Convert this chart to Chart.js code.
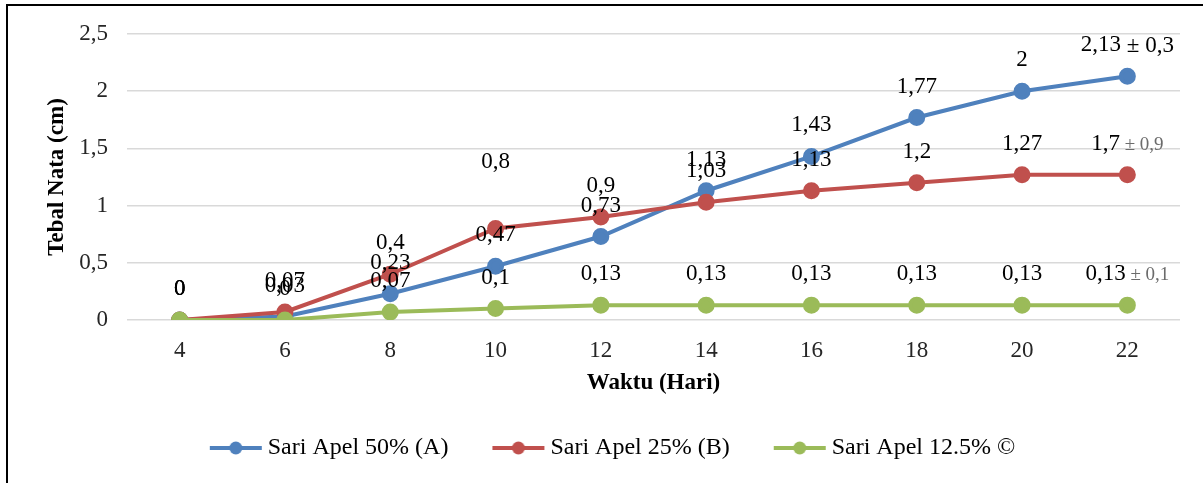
<!DOCTYPE html>
<html>
<head>
<meta charset="utf-8">
<script src="https://cdn.jsdelivr.net/npm/chart.js"></script>
<style>
  body { margin: 0; background: #fff; }
  #frame { position: absolute; left: 6px; top: 4px; width: 1220px; height: 520px; border: 2px solid #000; }
  canvas { position: absolute; left: 0; top: 0; }
</style>
</head>
<body>
<div id="frame"></div>
<canvas id="chartCanvas" width="1203" height="483"></canvas>
<script>
// Chart data
const days = ['4', '6', '8', '10', '12', '14', '16', '18', '20', '22'];
const sariApel50 = [0, 0.03, 0.23, 0.47, 0.73, 1.13, 1.43, 1.77, 2, 2.13];
const sariApel25 = [0, 0.07, 0.4, 0.8, 0.9, 1.03, 1.13, 1.2, 1.27, 1.27];
const sariApel125 = [0, 0, 0.07, 0.1, 0.13, 0.13, 0.13, 0.13, 0.13, 0.13];

// value labels as printed on the chart
const labels50 = ['0', '0,03', '0,23', '0,47', '0,73', '1,13', '1,43', '1,77', '2', '2,13'];
const labels25 = ['0', '0,07', '0,4', '0,8', '0,9', '1,03', '1,13', '1,2', '1,27', '1,7'];
const labels125 = ['0', '0', '0,07', '0,1', '0,13', '0,13', '0,13', '0,13', '0,13', '0,13'];
const errors = ['± 0,3', '± 0,9', '± 0,1'];

const seriesNames = ['Sari Apel 50% (A)', 'Sari Apel 25% (B)', 'Sari Apel 12.5% ©'];
const yTicks = [0, 0.5, 1, 1.5, 2, 2.5];

const colors = ['#4F81BD', '#C0504D', '#9BBB59'];
const serif = "'Liberation Serif', 'Times New Roman', serif";

// legend marker: line with a dot, drawn into a small canvas
function legendMark(color) {
  const c = document.createElement('canvas');
  c.width = 104;
  c.height = 16;
  const g = c.getContext('2d');
  g.strokeStyle = color;
  g.lineWidth = 4;
  g.beginPath();
  g.moveTo(46, 8);
  g.lineTo(98, 8);
  g.stroke();
  g.fillStyle = color;
  g.beginPath();
  g.arc(72, 8, 6.5, 0, Math.PI * 2);
  g.fill();
  return c;
}
const marks = colors.map(legendMark);

// draws the value labels above the points
const valueLabels = {
  id: 'valueLabels',
  afterDatasetsDraw(chart) {
    const ctx = chart.ctx;
    ctx.save();
    ctx.textBaseline = 'middle';
    ctx.textAlign = 'left';
    chart.data.datasets.forEach((ds, i) => {
      const meta = chart.getDatasetMeta(i);
      meta.data.forEach((pt, j) => {
        const main = ds.valueText[j];
        const last = j === meta.data.length - 1;
        let lift = 31;
        if (i === 1 && j === 3) lift = 67; // 0,8 label sits higher
        const y = pt.y - lift;
        ctx.font = '23px ' + serif;
        const w1 = ctx.measureText(main).width;
        let w2 = 0, suffix = '';
        if (last) {
          suffix = ' ' + errors[i];
          if (i !== 0) ctx.font = '19px ' + serif;
          w2 = ctx.measureText(suffix).width;
        }
        const x0 = pt.x - (w1 + w2) / 2;
        ctx.font = '23px ' + serif;
        ctx.fillStyle = '#000';
        ctx.fillText(main, x0, y);
        if (last) {
          if (i !== 0) {
            ctx.font = '19px ' + serif;
            ctx.fillStyle = '#6b6b6b';
          }
          ctx.fillText(suffix, x0 + w1, y + 1);
        }
      });
    });
    ctx.restore();
  }
};

const ctx = document.getElementById('chartCanvas');
const chart = new Chart(ctx, {
  type: 'line',
  data: {
    labels: days,
    datasets: [
      { label: seriesNames[0], data: sariApel50, valueText: labels50 },
      { label: seriesNames[1], data: sariApel25, valueText: labels25 },
      { label: seriesNames[2], data: sariApel125, valueText: labels125 }
    ].map((d, i) => Object.assign(d, {
      borderColor: colors[i],
      backgroundColor: colors[i],
      pointBackgroundColor: colors[i],
      pointBorderColor: colors[i],
      borderWidth: 4,
      pointRadius: 6.5,
      pointHoverRadius: 6.5,
      tension: 0,
      order: 3 - i
    }))
  },
  options: {
    responsive: false,
    animation: false,
    layout: { padding: { left: 11, right: 23, top: 34, bottom: 13 } },
    plugins: {
      tooltip: { enabled: false },
      legend: {
        position: 'bottom',
        labels: {
          usePointStyle: true,
          pointStyleWidth: 80,
          padding: 10,
          color: '#000',
          font: { family: serif, size: 24 },
          generateLabels: (chart) => {
            const items = Chart.defaults.plugins.legend.labels.generateLabels(chart);
            items.forEach(it => { it.pointStyle = marks[it.datasetIndex]; });
            items.sort((a, b) => a.datasetIndex - b.datasetIndex);
            return items;
          }
        }
      }
    },
    scales: {
      x: {
        offset: true,
        grid: { display: false, drawTicks: false },
        border: { display: false },
        ticks: { color: '#262626', padding: 17, font: { family: serif, size: 23 } },
        title: {
          display: true,
          text: 'Waktu (Hari)',
          color: '#000',
          padding: { top: 0, bottom: 29 },
          font: { family: serif, size: 23, weight: 'bold' }
        },
        afterFit: (scale) => { scale.height = 106; }
      },
      y: {
        min: 0,
        max: 2.5,
        afterBuildTicks: (scale) => { scale.ticks = yTicks.map(v => ({ value: v })); },
        grid: { color: '#D9D9D9', lineWidth: 1.5, drawTicks: false },
        border: { display: false },
        ticks: {
          color: '#262626',
          padding: 19,
          font: { family: serif, size: 23 },
          callback: (v) => String(v).replace('.', ',')
        },
        title: {
          display: true,
          text: 'Tebal Nata (cm)',
          color: '#000',
          padding: { top: 32, bottom: 0 },
          font: { family: serif, size: 23, weight: 'bold' }
        },
        afterFit: (scale) => { scale.width = 116; }
      }
    }
  },
  plugins: [valueLabels]
});
</script>
</body>
</html>
